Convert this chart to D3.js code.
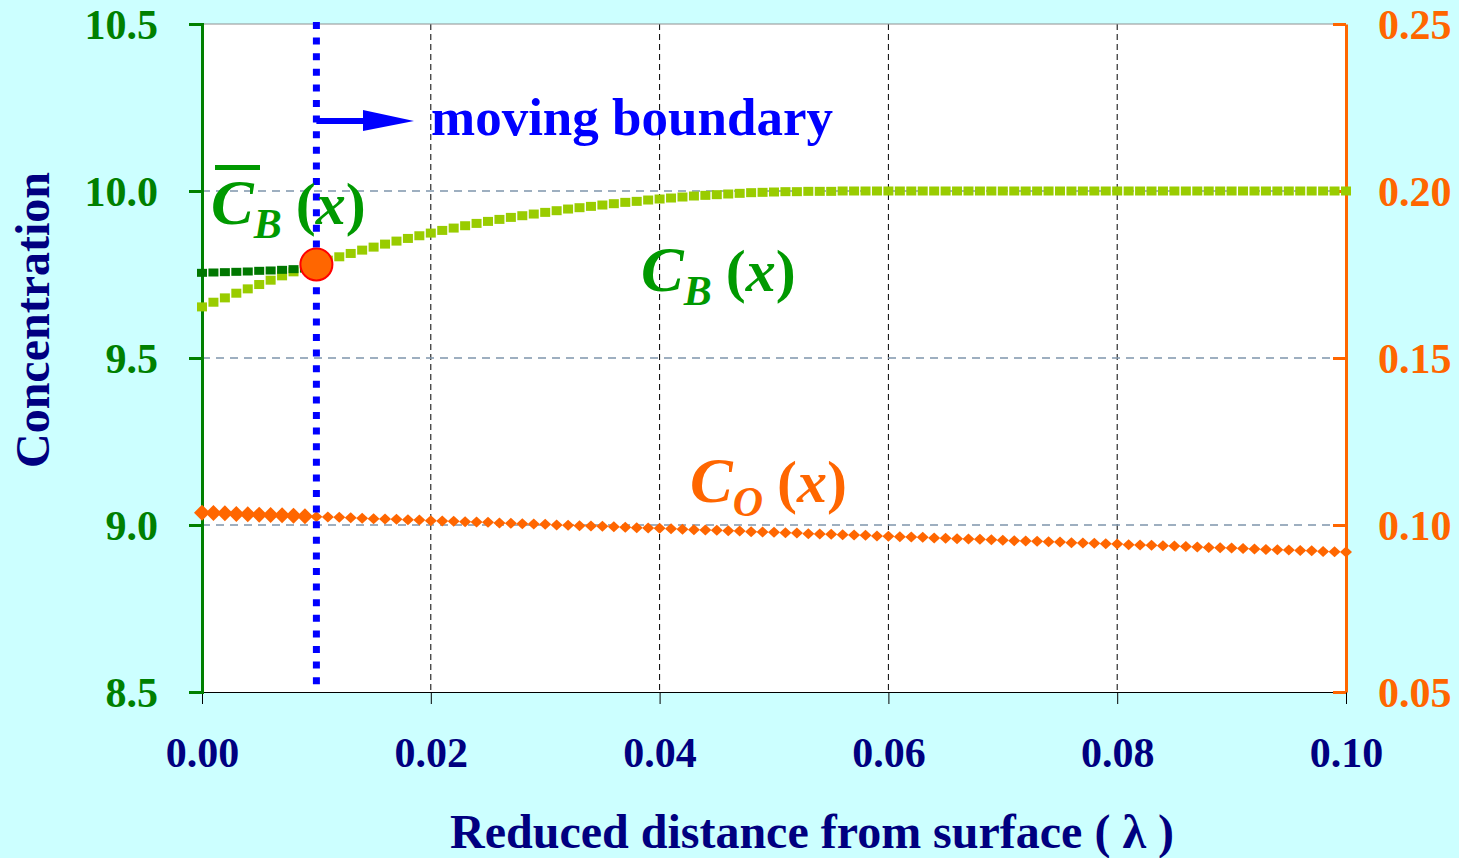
<!DOCTYPE html>
<html lang="en">

<head>
    <meta charset="UTF-8">
    <title>Concentration profile</title>
    <style>
        body { margin: 0; background: #ccffff; }
        svg { display: block; }
    </style>
</head>

<body>
    <script src="https://d3js.org/d3.v7.min.js"></script>
    <script>
        // lambda grid step (101 points from 0 to 0.1)
        const step = 0.001;
        const xTicks = [0, 0.02, 0.04, 0.06, 0.08, 0.10];
        const leftTicks = [8.5, 9.0, 9.5, 10.0, 10.5];
        const rightTicks = [0.05, 0.10, 0.15, 0.20, 0.25];
        const boundary = 0.01;
        const boundaryValue = 9.78;

        // C_B(x), left axis
        const cbValues = [
            9.653, 9.667, 9.680, 9.694, 9.707, 9.720, 9.733, 9.746, 9.758, 9.770,
            9.782, 9.793, 9.803, 9.813, 9.823, 9.832, 9.841, 9.850, 9.858, 9.866,
            9.874, 9.882, 9.889, 9.896, 9.903, 9.909, 9.915, 9.921, 9.926, 9.931,
            9.936, 9.941, 9.946, 9.950, 9.954, 9.958, 9.962, 9.966, 9.969, 9.973,
            9.976, 9.979, 9.982, 9.985, 9.987, 9.989, 9.991, 9.993, 9.995, 9.996,
            9.997, 9.998, 9.998, 9.999, 9.999, 9.999, 10.0, 10.0, 10.0, 10.0,
            10.0, 10.0, 10.0, 10.0, 10.0, 10.0, 10.0, 10.0, 10.0, 10.0,
            10.0, 10.0, 10.0, 10.0, 10.0, 10.0, 10.0, 10.0, 10.0, 10.0,
            10.0, 10.0, 10.0, 10.0, 10.0, 10.0, 10.0, 10.0, 10.0, 10.0,
            10.0, 10.0, 10.0, 10.0, 10.0, 10.0, 10.0, 10.0, 10.0, 10.0,
            10.0
        ];
        // C_B bar (behind the boundary), left axis
        const cbBarValues = [9.755, 9.756, 9.757, 9.758, 9.759, 9.761, 9.762, 9.764, 9.766, 9.768];
        // C_O(x), right axis
        const coValues = [
            0.1037, 0.1036, 0.1035, 0.1033, 0.1032, 0.1031, 0.1030, 0.1029, 0.1028, 0.1026,
            0.1025, 0.1024, 0.1023, 0.1022, 0.1020, 0.1019, 0.1018, 0.1017, 0.1016, 0.1015,
            0.1013, 0.1012, 0.1011, 0.1010, 0.1009, 0.1008, 0.1006, 0.1005, 0.1004, 0.1003,
            0.1002, 0.1000, 0.0999, 0.0998, 0.0997, 0.0996, 0.0995, 0.0993, 0.0992, 0.0991,
            0.0990, 0.0989, 0.0987, 0.0986, 0.0985, 0.0984, 0.0983, 0.0982, 0.0980, 0.0979,
            0.0978, 0.0977, 0.0976, 0.0974, 0.0973, 0.0972, 0.0971, 0.0970, 0.0969, 0.0967,
            0.0966, 0.0965, 0.0964, 0.0963, 0.0961, 0.0960, 0.0959, 0.0958, 0.0957, 0.0956,
            0.0954, 0.0953, 0.0952, 0.0951, 0.0950, 0.0949, 0.0947, 0.0946, 0.0945, 0.0944,
            0.0943, 0.0941, 0.0940, 0.0939, 0.0938, 0.0937, 0.0936, 0.0934, 0.0933, 0.0932,
            0.0931, 0.0930, 0.0928, 0.0927, 0.0926, 0.0925, 0.0924, 0.0923, 0.0921, 0.0920,
            0.0919
        ];

        const width = 1459, height = 858;
        const plotL = 202, plotR = 1346, plotT = 24, plotB = 692;
        const font = "'Liberation Serif', 'Times New Roman', serif";
        const green = "#009900", axisGreen = "#008000", orange = "#ff6600", navy = "#000080";

        const svg = d3.select("body").append("svg")
            .attr("width", width)
            .attr("height", height)
            .style("font-family", font);

        svg.append("rect").attr("width", width).attr("height", height).attr("fill", "#ccffff");
        svg.append("rect").attr("x", plotL).attr("y", plotT)
            .attr("width", plotR - plotL).attr("height", plotB - plotT).attr("fill", "white");

        const x = d3.scaleLinear().domain([0, 0.1]).range([plotL, plotR]);
        const yL = d3.scaleLinear().domain([8.5, 10.5]).range([plotB, plotT]);
        const yR = d3.scaleLinear().domain([0.05, 0.25]).range([plotB, plotT]);

        // grid lines
        svg.append("g").selectAll("line").data(xTicks.slice(1, -1)).join("line")
            .attr("x1", d => x(d)).attr("x2", d => x(d))
            .attr("y1", plotT).attr("y2", plotB)
            .attr("stroke", "black").attr("stroke-width", 1).attr("stroke-dasharray", "6,4");
        svg.append("g").selectAll("line").data(leftTicks.slice(1, -1)).join("line")
            .attr("x1", plotL).attr("x2", plotR)
            .attr("y1", d => yL(d)).attr("y2", d => yL(d))
            .attr("stroke", "#7f95ac").attr("stroke-width", 1.5).attr("stroke-dasharray", "8,6");
        svg.append("line").attr("x1", plotL).attr("x2", plotR).attr("y1", plotT).attr("y2", plotT)
            .attr("stroke", "#909090").attr("stroke-width", 1);

        // bottom axis
        const xAxis = svg.append("g")
            .attr("transform", `translate(0,${plotB})`)
            .call(d3.axisBottom(x).tickValues(xTicks).tickSize(12).tickPadding(33).tickFormat(d3.format(".2f")));
        xAxis.select(".domain").attr("stroke", "black").attr("stroke-width", 1);
        xAxis.selectAll("text").attr("font-family", font).attr("font-size", 42)
            .attr("font-weight", "bold").attr("fill", navy);

        // left axis
        const lAxis = svg.append("g")
            .attr("transform", `translate(${plotL},0)`)
            .call(d3.axisLeft(yL).tickValues(leftTicks).tickSizeInner(13).tickSizeOuter(0).tickPadding(31).tickFormat(d3.format(".1f")));
        lAxis.select(".domain").attr("stroke", axisGreen).attr("stroke-width", 3);
        lAxis.selectAll(".tick line").attr("stroke", axisGreen).attr("stroke-width", 3).attr("x2", -13).attr("x1", 2);
        lAxis.selectAll("text").attr("font-family", font).attr("font-size", 42)
            .attr("font-weight", "bold").attr("fill", axisGreen).attr("dy", "0.34em");

        // right axis
        const rAxis = svg.append("g")
            .attr("transform", `translate(${plotR},0)`)
            .call(d3.axisRight(yR).tickValues(rightTicks).tickSizeInner(-13).tickSizeOuter(0).tickPadding(32).tickFormat(d3.format(".2f")));
        rAxis.select(".domain").attr("stroke", orange).attr("stroke-width", 3);
        rAxis.selectAll(".tick line").attr("stroke", orange).attr("stroke-width", 3);
        rAxis.selectAll("text").attr("font-family", font).attr("font-size", 42)
            .attr("font-weight", "bold").attr("fill", orange).attr("dy", "0.34em");

        // C_O markers: larger before the boundary
        const diamond = (cx, cy, w, h) => `M${cx},${cy - h / 2}L${cx + w / 2},${cy}L${cx},${cy + h / 2}L${cx - w / 2},${cy}Z`;
        svg.append("g").selectAll("path").data(coValues).join("path")
            .attr("d", (d, i) => {
                const near = i * step < boundary;
                return diamond(x(i * step), yR(d), near ? 16 : 12, near ? 16 : 11);
            })
            .attr("fill", orange);

        // C_B markers
        svg.append("g").selectAll("rect").data(cbValues).join("rect")
            .attr("x", (d, i) => x(i * step) - 5).attr("y", d => yL(d) - 4.5)
            .attr("width", 10).attr("height", 9)
            .attr("fill", "#99cc00");

        svg.append("g").selectAll("rect").data(cbBarValues).join("rect")
            .attr("x", (d, i) => x(i * step) - 5).attr("y", d => yL(d) - 4)
            .attr("width", 10).attr("height", 8)
            .attr("fill", "#007700");

        // moving boundary
        svg.append("line")
            .attr("x1", x(boundary)).attr("x2", x(boundary))
            .attr("y1", plotT - 2).attr("y2", plotB)
            .attr("stroke", "#0000ff").attr("stroke-width", 7).attr("stroke-dasharray", "7,8.6");

        svg.append("circle")
            .attr("cx", x(boundary)).attr("cy", yL(boundaryValue)).attr("r", 16)
            .attr("fill", orange).attr("stroke", "#ff0000").attr("stroke-width", 2);

        svg.append("line")
            .attr("x1", x(boundary)).attr("x2", 370).attr("y1", 121).attr("y2", 121)
            .attr("stroke", "#0000ff").attr("stroke-width", 6);
        svg.append("path").attr("d", "M363,110L414,121L363,131Z").attr("fill", "#0000ff");

        svg.append("text").attr("x", 431).attr("y", 135)
            .attr("font-size", 53).attr("font-weight", "bold").attr("fill", "#0000ff")
            .text("moving boundary");

        // curve labels
        function label(xp, yp, main, sub, color) {
            const t = svg.append("text").attr("x", xp).attr("y", yp)
                .attr("font-weight", "bold").attr("fill", color);
            t.append("tspan").attr("font-size", 64).attr("font-style", "italic").text(main);
            t.append("tspan").attr("font-size", 42).attr("font-style", "italic").attr("dy", 14).text(sub);
            t.append("tspan").attr("font-size", 60).attr("dy", -14).attr("dx", 14).text("(");
            t.append("tspan").attr("font-size", 60).attr("font-style", "italic").text("x");
            t.append("tspan").attr("font-size", 60).text(")");
            return t;
        }
        label(211, 224, "C", "B", green);
        svg.append("rect").attr("x", 215).attr("y", 165).attr("width", 45).attr("height", 5).attr("fill", green);
        label(641, 291, "C", "B", green);
        label(690, 502, "C", "O", orange);

        // axis titles
        svg.append("text")
            .attr("transform", "translate(49,320) rotate(-90)")
            .attr("text-anchor", "middle")
            .attr("font-size", 48).attr("font-weight", "bold").attr("fill", navy)
            .text("Concentration");

        svg.append("text")
            .attr("x", 812).attr("y", 848)
            .attr("text-anchor", "middle")
            .attr("font-size", 48).attr("font-weight", "bold").attr("fill", navy)
            .text("Reduced distance from surface ( λ )");
    </script>
</body>

</html>
